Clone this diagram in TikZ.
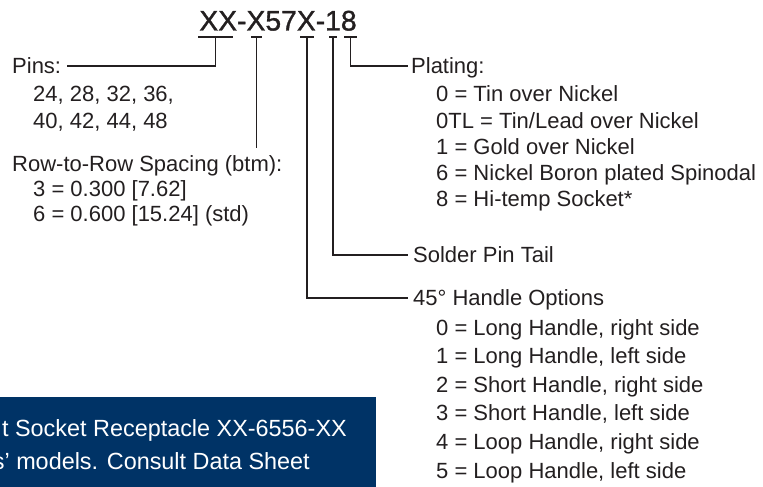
\documentclass[tikz,border=0pt]{standalone}
\usepackage{fontspec}
\setmainfont{Liberation Sans}
\newfontfamily\titlefont[FakeBold=1.2]{Liberation Sans}
\definecolor{ink}{HTML}{231F20}
\definecolor{navy}{RGB}{0,51,102}
\begin{document}
\begin{tikzpicture}[x=1pt,y=-1pt,
  txt/.style={font=\fontsize{22}{26}\selectfont, text=ink, inner sep=0pt, anchor=base west},
  hdr/.style={txt, text height=15.6pt, text depth=0pt},
  bluetxt/.style={font=\fontsize{23.4}{28}\selectfont, text=white, inner sep=0pt, anchor=base east},
  conn/.style={draw=ink, line width=1.6pt},
  uline/.style={draw=ink, line width=2.2pt}]
\useasboundingbox (0,0) rectangle (763,487);

% title
\node[font=\titlefont\fontsize{28.3}{30}\selectfont, text=ink, inner sep=0pt, anchor=base] (title) at (278,30.5) {XX-X57X-18};

% underline segments
\coordinate (u1) at (215.5,37);
\coordinate (u2) at (256.5,37);
\coordinate (u3) at (307,37);
\coordinate (u4) at (333,37);
\coordinate (u5) at (350.5,37);
\draw[uline] (198,37) -- (233,37);
\draw[uline] (251,37) -- (262,37);
\draw[uline] (300,37) -- (314,37);
\draw[uline] (329,37) -- (337,37);
\draw[uline] (344,37) -- (357,37);

% left column
\node[hdr] (pins) at (12,73.8) {Pins:};
\node[txt] (pins1) at (33,102) {24, 28, 32, 36,};
\node[txt] (pins2) at (33,128) {40, 42, 44, 48};
\node[hdr] (row) at (12,171) {Row-to-Row Spacing (btm):};
\node[txt] (row1) at (33,196) {3 = 0.300 [7.62]};
\node[txt] (row2) at (33,221) {6 = 0.600 [15.24] (std)};
\coordinate (rowend) at (256.5,148);

% right column
\node[hdr] (plating) at (411,73.8) {Plating:};
\foreach \t [count=\i from 0] in {{0 = Tin over Nickel},{0TL = Tin/Lead over Nickel},{1 = Gold over Nickel},{6 = Nickel Boron plated Spinodal},{8 = Hi-temp Socket*}}
  \node[txt] (p\i) at (436,{102+26.2*\i}) {\t};
\node[hdr] (solder) at (413,262.8) {Solder Pin Tail};
\node[hdr] (handle) at (413,305.8) {45° Handle Options};
\foreach \t [count=\i from 0] in {{0 = Long Handle, right side},{1 = Long Handle, left side},{2 = Short Handle, right side},{3 = Short Handle, left side},{4 = Loop Handle, right side},{5 = Loop Handle, left side}}
  \node[txt] (h\i) at (436,{335+28.6*\i}) {\t};

% connectors
\draw[conn] (u1) |- ([xshift=6pt]pins.east);
\draw[conn] (u2) -- (rowend);
\draw[conn] (u5) |- ([xshift=-3pt]plating.west);
\draw[conn] (u4) |- ([xshift=-5pt]solder.west);
\draw[conn] (u3) |- ([xshift=-5pt]handle.west);

% blue banner
\begin{scope}
  \clip (0,397) rectangle (376,487);
  \fill[navy] (0,397) rectangle (376,487);
  \node[bluetxt] (b1) at (347,436) {t Socket Receptacle XX-6556-XX};
  \node[bluetxt] (b2) at (310,469) {s’ models. Consult Data Sheet};
\end{scope}
\end{tikzpicture}
\end{document}
